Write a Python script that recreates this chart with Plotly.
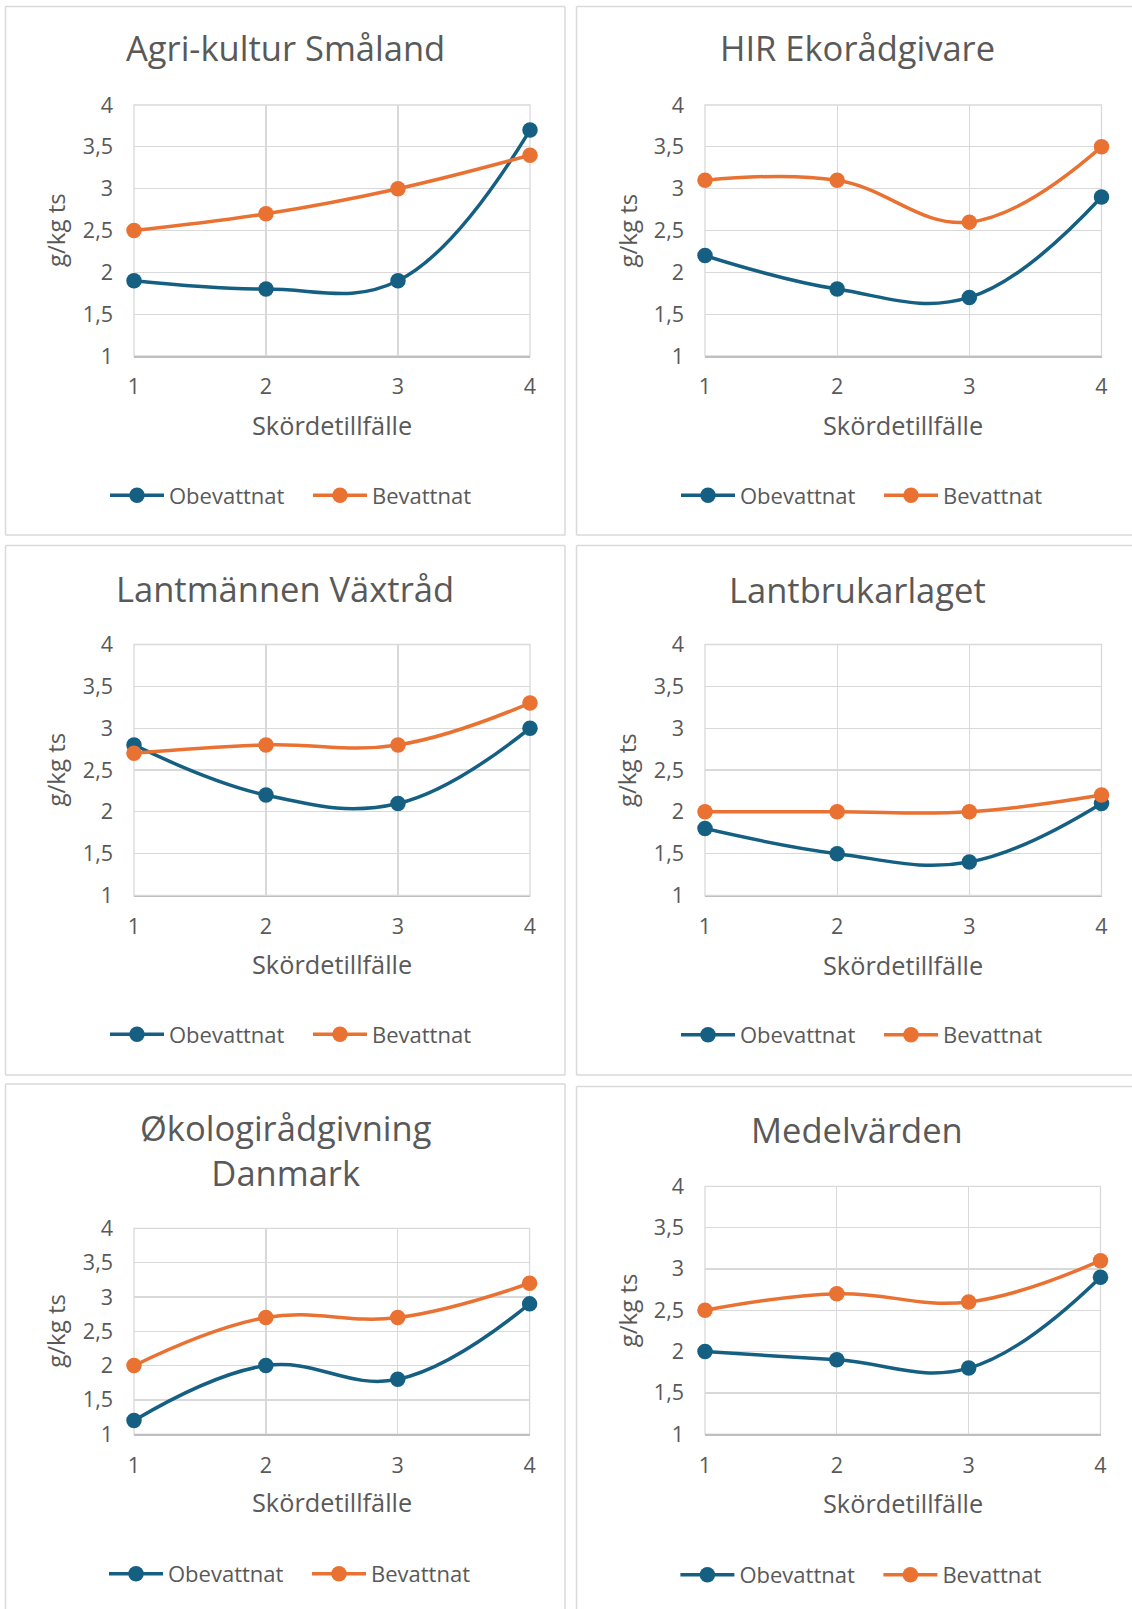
import plotly.graph_objects as go

W, H = 1132, 1609
FONT = "Open Sans"
TXT = "#595959"
GRID = "#d9d9d9"
BLUE = "#156082"
ORANGE = "#E97132"

# ---------------- data ----------------
harvest = [1, 2, 3, 4]
series_names = ["Obevattnat", "Bevattnat"]
titles = ["Agri-kultur Småland", "HIR Ekorådgivare", "Lantmännen Växtråd",
          "Lantbrukarlaget", "Økologirådgivning<br>Danmark", "Medelvärden"]

agri_obevattnat = [1.9, 1.8, 1.9, 3.7]
agri_bevattnat = [2.5, 2.7, 3.0, 3.4]
hir_obevattnat = [2.2, 1.8, 1.7, 2.9]
hir_bevattnat = [3.1, 3.1, 2.6, 3.5]
lantmannen_obevattnat = [2.8, 2.2, 2.1, 3.0]
lantmannen_bevattnat = [2.7, 2.8, 2.8, 3.3]
lantbrukarlaget_obevattnat = [1.8, 1.5, 1.4, 2.1]
lantbrukarlaget_bevattnat = [2.0, 2.0, 2.0, 2.2]
okologi_obevattnat = [1.2, 2.0, 1.8, 2.9]
okologi_bevattnat = [2.0, 2.7, 2.7, 3.2]
medel_obevattnat = [2.0, 1.9, 1.8, 2.9]
medel_bevattnat = [2.5, 2.7, 2.6, 3.1]

y_tickvals = [1, 1.5, 2, 2.5, 3, 3.5, 4]
y_ticktext = ["1", "1,5", "2", "2,5", "3", "3,5", "4"]
x_title = "Skördetillfälle"
y_title = "g/kg ts"

panel_series = [
    (agri_obevattnat, agri_bevattnat),
    (hir_obevattnat, hir_bevattnat),
    (lantmannen_obevattnat, lantmannen_bevattnat),
    (lantbrukarlaget_obevattnat, lantbrukarlaget_bevattnat),
    (okologi_obevattnat, okologi_bevattnat),
    (medel_obevattnat, medel_bevattnat),
]

# ---------------- layout geometry (px) ----------------
# plot area: x_left, x_right, y_top, y_bottom
plot_boxes = [
    (134, 530, 105, 356),
    (705, 1101.5, 105, 356),
    (134, 530, 644.5, 895.5),
    (705, 1101.5, 644.5, 895.5),
    (134, 529.6, 1228.4, 1434.2),
    (705, 1100.5, 1186.3, 1434.2),
]
# chart frames: left, right, top, bottom (None = runs off the page)
panel_frames = [
    (5.5, 565, 6.5, 535),
    (576.5, None, 6.5, 535),
    (5.5, 565, 545.5, 1075),
    (576.5, None, 545.5, 1075),
    (5.5, 565, 1084, None),
    (576.5, None, 1086.5, None),
]
title_pos = [(285, 49), (857, 49), (285, 589), (857, 590), (286, 1150.5), (856.5, 1130.6)]
xtitle_y = [425.8, 425.8, 965, 966, 1503.4, 1504.4]
ytitle_x = [55.5, 627, 55.5, 627, 55.5, 627]
legend_pos = [(115, 496.4), (686, 496.4), (115, 1035.5), (686, 1036), (114, 1575), (685.4, 1576)]

fig = go.Figure()
layout = dict(
    width=W, height=H, margin=dict(l=0, r=0, t=0, b=0, autoexpand=False),
    paper_bgcolor="white", plot_bgcolor="white",
    font=dict(family=FONT, color=TXT),
    shapes=[], annotations=[], showlegend=True,
)

colors = [BLUE, ORANGE]


def px_x(v):
    return v / W


def px_y(v):
    return 1 - v / H


for i, (obe, bev) in enumerate(panel_series):
    n = "" if i == 0 else str(i + 1)
    xa, ya = "x" + n, "y" + n
    leg = "legend" + n
    x0, x1, yt, yb = plot_boxes[i]
    for s, vals in enumerate((obe, bev)):
        fig.add_trace(go.Scatter(
            x=harvest, y=vals, name=series_names[s], mode="lines+markers",
            line=dict(color=colors[s], width=3.5, shape="spline", smoothing=1.15),
            marker=dict(color=colors[s], size=15.5),
            xaxis=xa, yaxis=ya, legend=leg, cliponaxis=False,
        ))
    layout["xaxis" + n] = dict(
        domain=[px_x(x0), px_x(x1)], range=[1, 4], anchor=ya,
        tickvals=harvest, ticktext=[str(v) for v in harvest],
        showgrid=True, gridcolor=GRID, gridwidth=1.3, zeroline=False,
        showline=True, linecolor="#bfbfbf", linewidth=1.5, ticks="",
        tickfont=dict(size=21.5, color=TXT, family=FONT), ticklabelstandoff=11,
        fixedrange=True, automargin=False,
    )
    layout["yaxis" + n] = dict(
        domain=[px_y(yb), px_y(yt)], range=[1, 4], anchor=xa,
        tickvals=y_tickvals, ticktext=y_ticktext,
        showgrid=True, gridcolor=GRID, gridwidth=1.3, zeroline=False,
        showline=False, ticks="",
        tickfont=dict(size=21.5, color=TXT, family=FONT), ticklabelstandoff=20,
        fixedrange=True, automargin=False,
    )
    # plot area box (edges of the grid)
    layout["shapes"].append(dict(
        type="rect", xref=xa + " domain", yref=ya + " domain", x0=0, x1=1, y0=0, y1=1,
        line=dict(color=GRID, width=1.3), layer="below"))
    # chart frame (sides that run off the page are left open)
    fl, fr, ft, fb = panel_frames[i]
    rx = px_x(fr) if fr is not None else 1.0
    by = px_y(fb) if fb is not None else 0.0
    segs = [((px_x(fl), px_y(ft)), (rx, px_y(ft))),
            ((px_x(fl), px_y(ft)), (px_x(fl), by))]
    if fr is not None:
        segs.append(((rx, px_y(ft)), (rx, by)))
    if fb is not None:
        segs.append(((px_x(fl), by), (rx, by)))
    for (ax0, ay0), (ax1, ay1) in segs:
        layout["shapes"].append(dict(
            type="line", xref="paper", yref="paper", x0=ax0, y0=ay0, x1=ax1, y1=ay1,
            line=dict(color=GRID, width=1.5)))
    # title
    tx, ty = title_pos[i]
    layout["annotations"].append(dict(
        text=titles[i], xref="paper", yref="paper", x=px_x(tx), y=px_y(ty - 1),
        xanchor="center", yanchor="middle", showarrow=False,
        font=dict(size=34.5, color=TXT, family=FONT)))
    # x axis title
    layout["annotations"].append(dict(
        text=x_title, xref="paper", yref="paper", x=px_x((x0 + x1) / 2), y=px_y(xtitle_y[i] - 1),
        xanchor="center", yanchor="middle", showarrow=False,
        font=dict(size=25.3, color=TXT, family=FONT)))
    # y axis title
    layout["annotations"].append(dict(
        text=y_title, xref="paper", yref="paper", x=px_x(ytitle_x[i]), y=px_y((yt + yb) / 2),
        xanchor="center", yanchor="middle", showarrow=False, textangle=-90,
        font=dict(size=24, color=TXT, family=FONT)))
    # legend
    lx, ly = legend_pos[i]
    layout[leg] = dict(
        orientation="h", x=px_x(lx - 10), y=px_y(ly - 1), xanchor="left", yanchor="middle",
        font=dict(size=22, color=TXT, family=FONT), itemwidth=54,
        entrywidth=134, entrywidthmode="pixels", bgcolor="rgba(0,0,0,0)",
        borderwidth=0, itemclick=False, itemdoubleclick=False,
    )

fig.update_layout(**layout)
fig.write_html(
    "out.html",
    config={"displayModeBar": False, "staticPlot": True},
    post_script="document.body.style.margin='0';document.body.style.padding='0';",
)
